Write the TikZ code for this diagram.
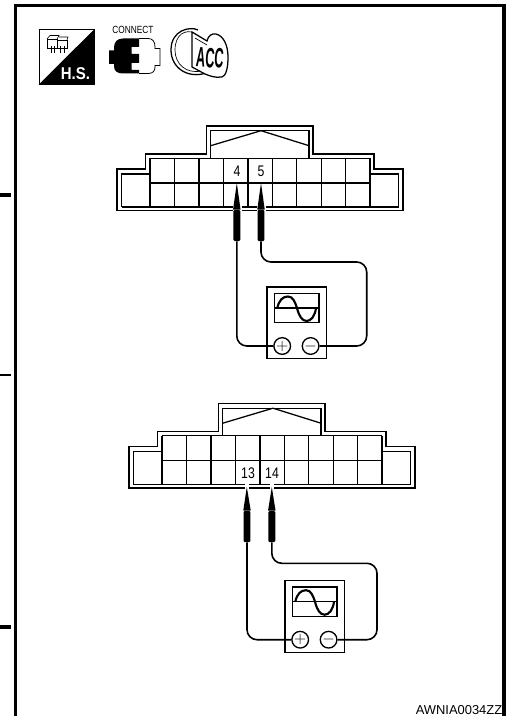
\documentclass[tikz,border=0pt]{standalone}
\usepackage{fontspec}
\setmainfont{Liberation Sans}
\newfontfamily\narrowfont[FakeStretch=0.8]{Liberation Sans}
\newfontfamily\badgefont[FakeStretch=0.88]{Liberation Sans}
\newfontfamily\keyfont[FakeStretch=0.45]{Liberation Sans}

\tikzset{
    frameline/.style={line width=2.4pt},
    connline/.style={line width=0.95pt},
    wire/.style={line width=1.2pt, rounded corners=7.5pt},
    needle/.style={fill=black, rounded corners=1pt, inner sep=0pt, minimum width=5.2pt, minimum height=23.5pt},
    pinlabel/.style={font=\narrowfont\fontsize{11.5}{13}\selectfont, inner sep=0pt},
    jack/.style={circle, draw, fill=white, line width=1pt, inner sep=0pt, minimum size=12.5pt, font=\large},
    meter/.pic={
        \draw[connline] (0,0) rectangle (59.3,71.8);
        \draw[connline] (7.7,6.4) rectangle (52,35.7);
        \draw[connline] (7.7,21) -- (52,21);
        % Sine wave
        \draw[line width=1.6pt] (10.3,21) .. controls (12,13) and (16,9.5) .. (21,9.5)
            .. controls (26,9.5) and (28,15) .. (30,21)
            .. controls (32,29) and (35,34) .. (39.7,34)
            .. controls (44,34) and (48,29) .. (49,21);
        \node[jack] (plus) at (15.2,59) {$+$};
        \node[jack] (minus) at (43.6,59) {$-$};
    },
    harness/.pic={
        % Outer contour
        \draw[connline] (117,210.5) -- (117,169) -- (145.7,169) -- (145.7,154) -- (206.7,154) -- (206.7,126)
            -- (313,126) -- (313,154) -- (374,154) -- (374,169) -- (403,169) -- (403,210.5) -- cycle;
        % Inner contour
        \draw[connline] (121.7,207) -- (121.7,174) -- (150,174);
        \draw[connline] (370,174) -- (398.3,174) -- (398.3,207) -- (121.7,207);
        \draw[connline] (210.7,158.3) -- (210.7,130.7) -- (309,130.7) -- (309,158.3);
        \draw[connline] (210.7,145.7) -- (261,130.7) -- (309,145.7);
        % Cells
        \draw[connline] (150,158.3) -- (370,158.3);
        \draw[connline] (150,183) -- (370,183);
        \foreach \x in {150,174.5,199,223.4,247.9,272.3,296.8,321.2,345.7,370} {
            \draw[connline] (\x,158.3) -- (\x,207);
        }
    }
}

\begin{document}
\begin{tikzpicture}[x=0.75pt, y=-0.75pt]
    \useasboundingbox (0,0) rectangle (506,716);

    % Page frame
    \draw[frameline] (15.5,716) -- (15.5,5.5) -- (504,5.5) -- (504,716);
    \draw[line width=3pt] (0,195) -- (11,195);
    \draw[line width=1.6pt] (0,375) -- (11,375);
    \draw[line width=3pt] (0,627) -- (11,627);

    % H.S. icon
    \draw[line width=0.5pt, fill=white] (39,29.3) rectangle (94.3,84.3);
    \fill (94.3,29.3) -- (94.3,84.3) -- (39,84.3) -- cycle;
    \node[text=white, inner sep=0pt, font=\badgefont\fontsize{12.8}{14}\selectfont\bfseries] (hstext) at (75.5,73.5) {H.S.};
    \draw[line width=0.45pt] (47,39) rectangle (57,48);
    \draw[line width=0.45pt] (47,39) -- (50,35.5) -- (59,35.5) -- (57,39);
    \draw[line width=0.45pt] (57,40) -- (67,40) -- (67,48) -- (57,48);
    \draw[line width=0.45pt] (59,37) -- (68,37) -- (67,40);
    \foreach \x in {51,54,60,64} {
        \draw[line width=0.45pt] (\x,46) -- (\x,53);
    }

    % CONNECT icon
    \node[inner sep=0pt, font=\narrowfont\fontsize{7.8}{9}\selectfont] (connecttext) at (133,30) {CONNECT};
    \draw[line width=0.6pt] (139,38.5) -- (148,38.5) .. controls (153,38.5) and (155,42) .. (155,47) -- (155,48.5)
        -- (160,48.5) -- (160,65.5) -- (155,65.5) -- (155,67) .. controls (155,71) and (153,73.5) .. (148,73.5) -- (139,73.5);
    \fill (139,38.5) -- (123,38.5) .. controls (117,38.5) and (114,42) .. (114,48) -- (114,50.5)
        -- (109,50.5) -- (109,64) -- (114,64) -- (114,66) .. controls (114,71) and (117,73.5) .. (123,73.5)
        -- (139,73.5) -- (139,70) -- (131.7,70) -- (131.7,63) -- (139,63) -- (139,54) -- (131.7,54)
        -- (131.7,47) -- (139,47) -- cycle;

    % Key icon
    \draw[connline] (198,30) .. controls (190,26) and (171,30) .. (171,50) .. controls (171,68) and (188,79) .. (206,73);
    \draw[line width=0.5pt] (194,33) .. controls (186,29) and (175,34) .. (175,50) .. controls (175,64) and (186,74) .. (201,71);
    \draw[connline, fill=white] (192,32) -- (207,41) .. controls (208,36) and (212,33) .. (216,34)
        .. controls (224,36) and (228,46) .. (228,57) .. controls (228,68) and (226,76) .. (222,77)
        .. controls (215,78) and (210,76) .. (205,74) -- (192,67) -- cycle;
    \draw[line width=0.5pt] (195,38) -- (207,45);
    \node[inner sep=0pt, rotate=-4, font=\keyfont\fontsize{21}{23}\selectfont\bfseries] (acctext) at (210,58) {ACC};

    % Upper connector
    \pic at (0,0) {harness};
    \node[pinlabel] (pin4) at (237,171.5) {4};
    \node[pinlabel] (pin5) at (261,171.5) {5};
    \fill[white] (232.5,205.5) rectangle (241.5,212);
    \fill[white] (256.5,205.5) rectangle (265.5,212);
    \node[needle] (probe4) at (236.8,225.5) {};
    \node[needle] (probe5) at (261,225.5) {};
    \coordinate (tip4) at (236.8,183);
    \coordinate (tip5) at (261,183);
    \fill (probe4.north west) -- (tip4) -- (probe4.north east) -- cycle;
    \fill (probe5.north west) -- (tip5) -- (probe5.north east) -- cycle;

    % Upper tester
    \pic (upper) at (267,287) {meter};
    \coordinate (bendA) at (366.7,262);
    \draw[wire] (probe4.south) |- (upperplus.west);
    \draw[wire] (probe5.south) |- (bendA) |- (upperminus.east);

    % Lower connector
    \pic at (12,277.5) {harness};
    \node[pinlabel] (pin13) at (248,473) {13};
    \node[pinlabel] (pin14) at (272,473) {14};
    \fill[white] (244.7,483) rectangle (248.7,489.5);
    \fill[white] (270,483) rectangle (274,489.5);
    \node[needle] (probe13) at (247,526.5) {};
    \node[needle] (probe14) at (271.8,526.5) {};
    \coordinate (tip13) at (246.8,487);
    \coordinate (tip14) at (271.8,487);
    \fill (probe13.north west) -- (tip13) -- (probe13.north east) -- cycle;
    \fill (probe14.north west) -- (tip14) -- (probe14.north east) -- cycle;

    % Lower tester
    \pic (lower) at (285,580.7) {meter};
    \coordinate (bendB) at (377,563.3);
    \draw[wire] (probe13.south) |- (lowerplus.west);
    \draw[wire] (probe14.south) |- (bendB) |- (lowerminus.east);

    % Figure code
    \node[anchor=south east, inner sep=0pt, font=\fontsize{9.7}{11}\selectfont] (figcode) at (502.5,715) {AWNIA0034ZZ};
\end{tikzpicture}
\end{document}
